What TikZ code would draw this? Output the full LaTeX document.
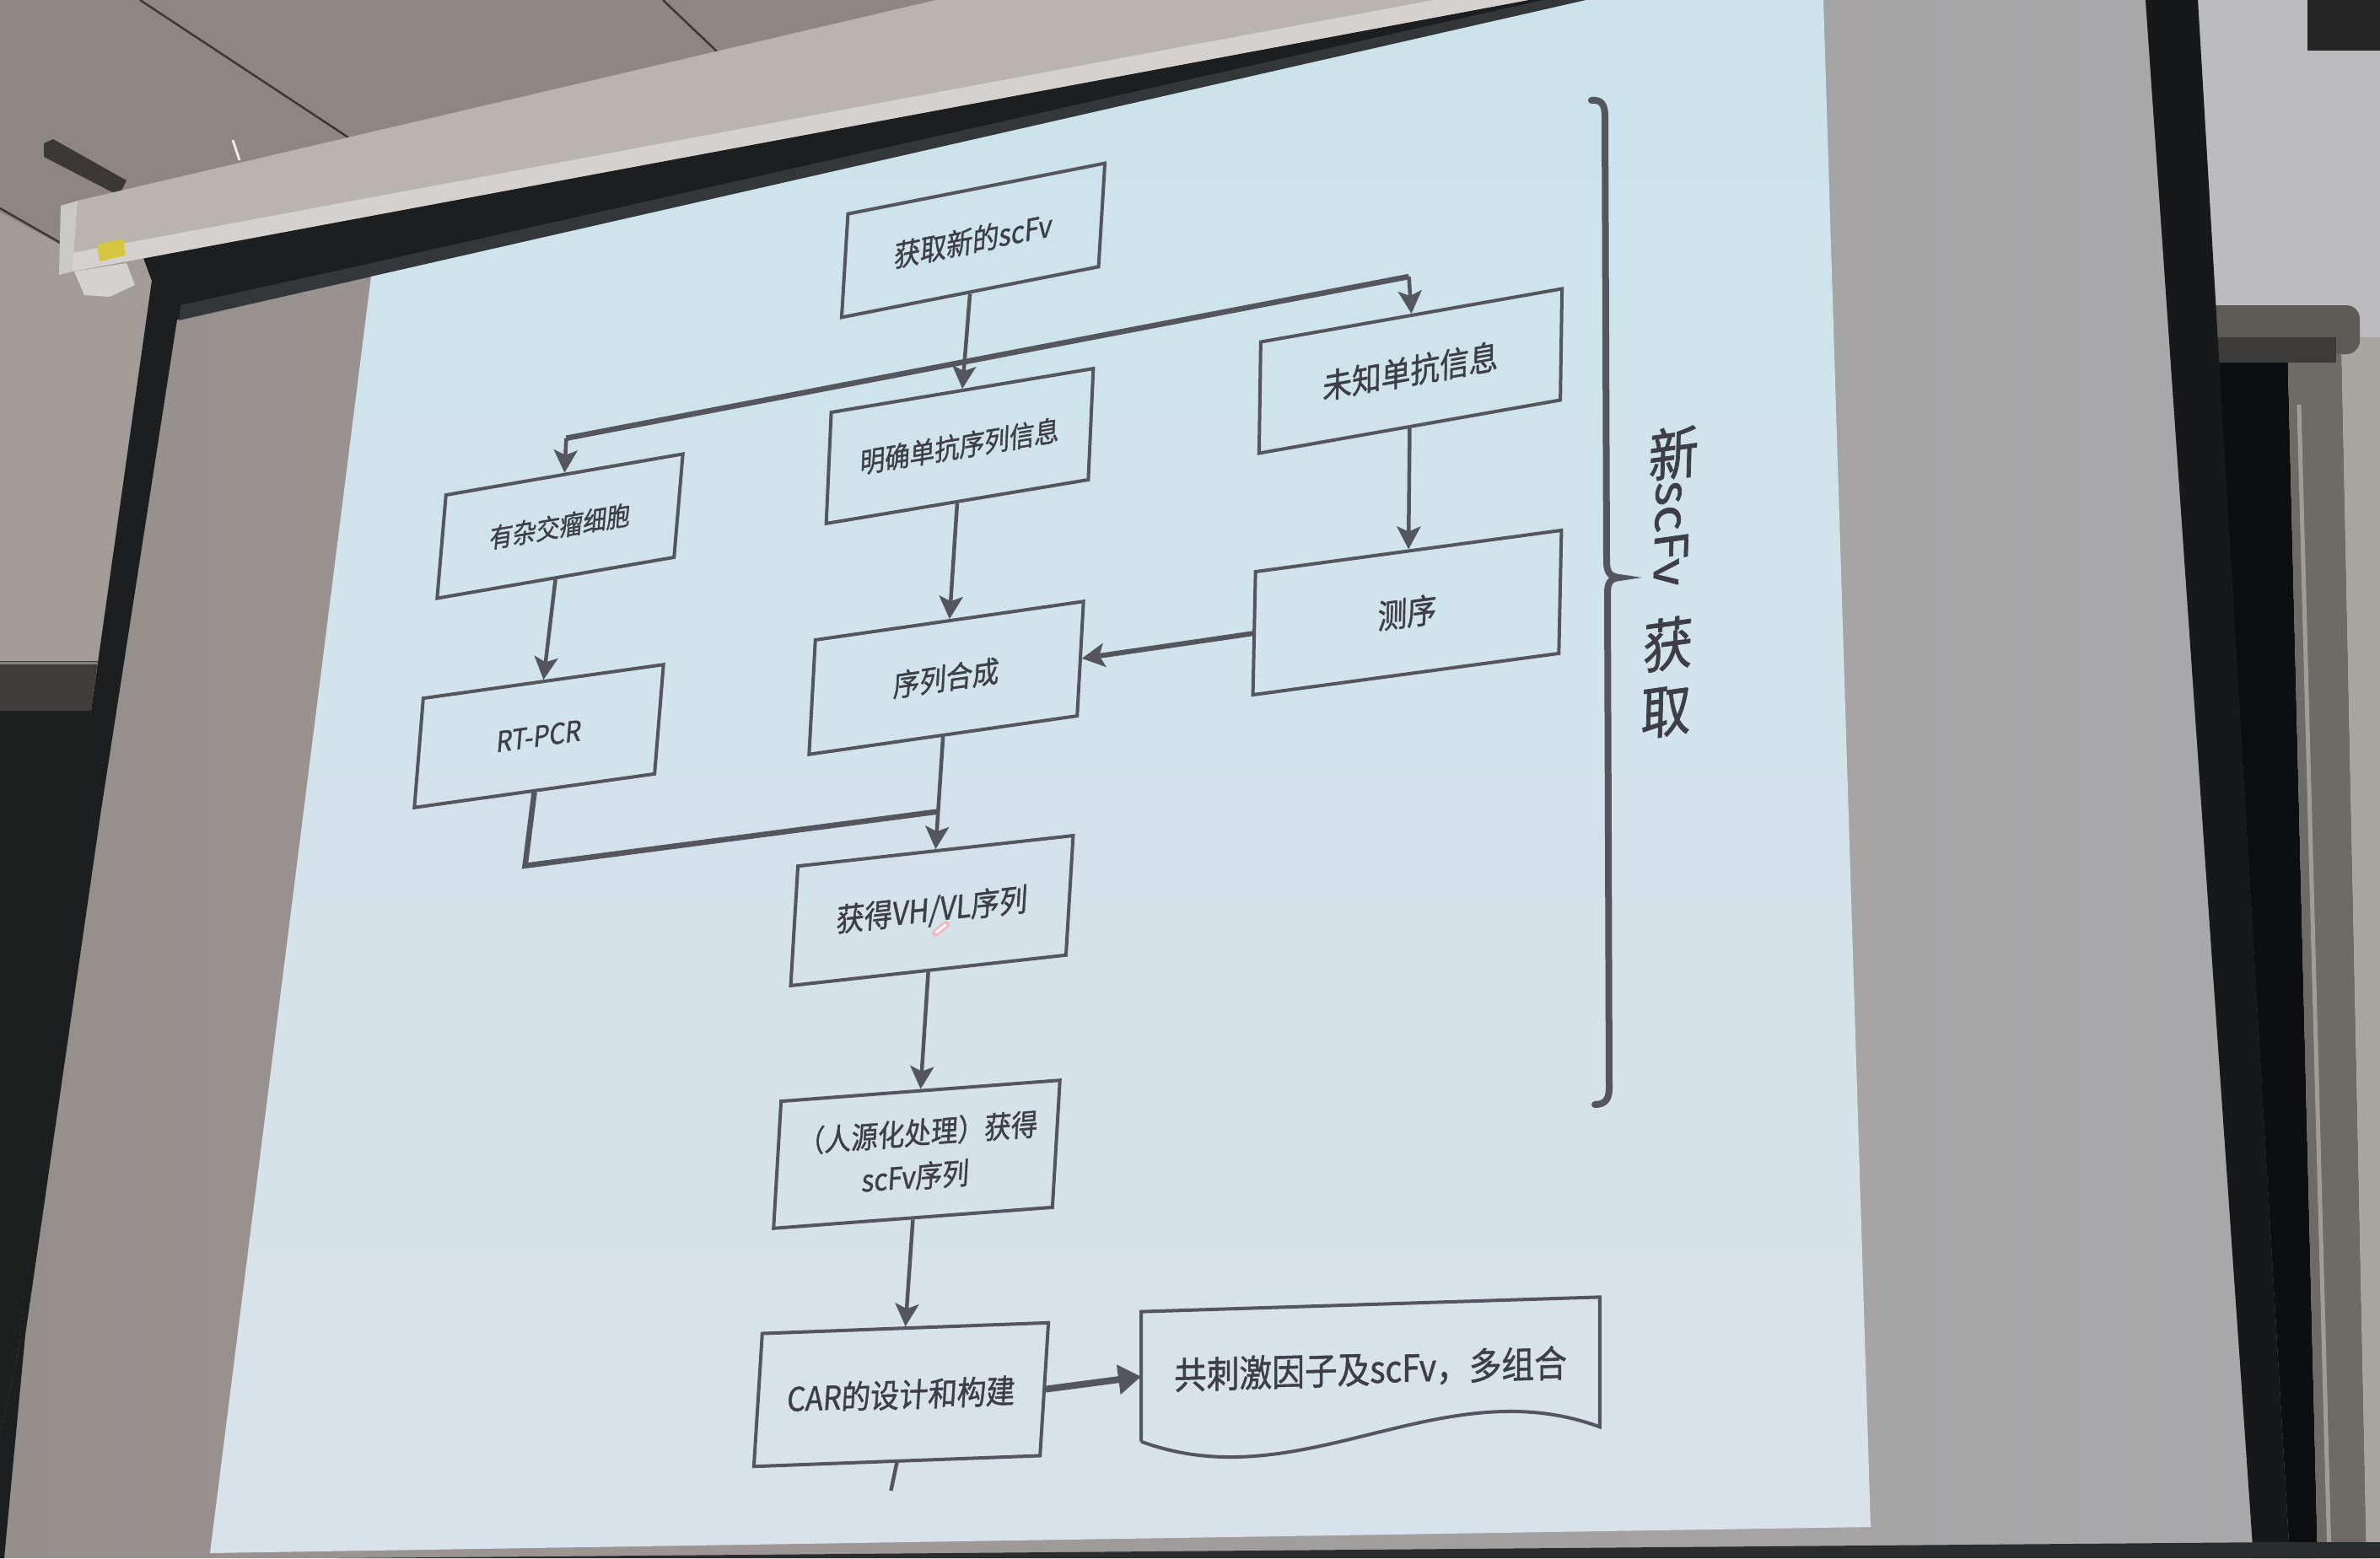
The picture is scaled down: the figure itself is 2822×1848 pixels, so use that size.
\documentclass[tikz,border=0pt]{standalone}
\usepackage{fontspec}
\usepackage{graphicx}
\usetikzlibrary{arrows.meta,calc}
\newfontfamily\cjk{Noto Sans CJK SC}[FakeBold=1.2]
\definecolor{ceil}{HTML}{8D8681}
\definecolor{ceilline}{HTML}{3C3835}
\definecolor{housing}{HTML}{BAB4AF}
\definecolor{housinglt}{HTML}{D4D1CE}
\definecolor{lblyellow}{HTML}{D6C640}
\definecolor{wallL}{HTML}{A39B97}
\definecolor{ledge}{HTML}{3F3C3A}
\definecolor{board}{HTML}{1B201F}
\definecolor{frameblk}{HTML}{1D1E20}
\definecolor{frameedge}{HTML}{34373A}
\definecolor{clothL}{HTML}{968E8B}
\definecolor{clothR}{HTML}{A9A9AB}
\definecolor{slideT}{HTML}{CCE3EB}
\definecolor{slideB}{HTML}{D9E2EA}
\definecolor{wallR}{HTML}{BCBCBE}
\definecolor{metal}{HTML}{6E6B66}
\definecolor{metallt}{HTML}{A09D98}
\definecolor{metalside}{HTML}{A8A5A0}
\definecolor{barclr}{HTML}{5E5B57}
\definecolor{bardark}{HTML}{3D3B39}
\definecolor{borderR}{HTML}{17181A}
\definecolor{topblock}{HTML}{262626}
\definecolor{bottomband}{HTML}{2B2C2E}
\definecolor{deep}{HTML}{0C0E11}
\definecolor{laser}{HTML}{F2B8BE}
\definecolor{lnclr}{HTML}{55555E}
\definecolor{txtclr}{HTML}{3E3E47}
\begin{document}
\begin{tikzpicture}[x=1pt,y=-1pt,
  box/.style={draw=lnclr, line width=4pt, text=txtclr, inner sep=0pt, align=center, transform shape},
  conn/.style={draw=lnclr, line width=4.5pt},
  arr/.style={conn, -{Stealth[length=27pt,width=28pt,inset=6pt]}},
  heavy/.style={draw=lnclr, line width=6.5pt, line join=miter},
]
\useasboundingbox (0,0) rectangle (2822,1848);

% ---- room: ceiling, wall, blackboard ----
\fill[ceil] (0,0) rectangle (2822,1848);
\draw[ceilline, line width=2.5pt] (166,0) -- (413,163);
\draw[ceilline, line width=2.5pt] (786,0) -- (850,61);
\draw[ceilline, line width=2.5pt] (0,247) -- (75,290);
\fill[ceilline] (52,170) -- (63,165) -- (150,214) -- (141,232) -- (52,186) -- cycle;
\draw[white!85!gray, line width=3pt] (276,166) -- (284,190);
\fill[wallL] (0,252) -- (75,292) -- (86,322) -- (170,306) -- (180,333) -- (116,784) -- (0,784) -- cycle;
\fill[ledge] (0,784) -- (116,784) -- (108,843) -- (0,843) -- cycle;
\draw[gray, line width=3pt] (0,786) -- (116,786);
\fill[board] (0,843) -- (108,843) -- (20,1613) -- (0,1700) -- cycle;

% ---- screen cloth and its black frame ----
\shade[left color=clothL, right color=clothR]
  (210,379) -- (1881,0) -- (2544,0) -- (2672,1848) -- (5,1848) -- (30,1583) -- (120,960) -- cycle;
\fill[frameblk] (170,306) -- (1812,0) -- (1881,0) -- (440,328) -- (210,379) -- (120,960)
  -- (30,1583) -- (5,1848) -- (0,1848) -- (0,1700) -- (20,1613) -- (100,900) -- (180,333) -- cycle;
\fill[frameedge] (212,380) -- (440,328) -- (1881,0) -- (1830,0) -- (436,313) -- (214,362) -- cycle;

% ---- screen housing ----
\fill[housing] (92,238) -- (1110,0) -- (1812,0) -- (86,322) -- cycle;
\fill[housinglt] (86,300) -- (1700,0) -- (1812,0) -- (86,322) -- cycle;
\fill[housinglt!90!gray] (72,244) -- (92,238) -- (86,322) -- (70,326) -- cycle;
\fill[lblyellow] (115,290) -- (146,283) -- (149,303) -- (118,310) -- cycle;
\fill[housinglt] (88,322) -- (150,312) -- (160,338) -- (130,352) -- (100,350) -- cycle;

% ---- projected slide ----
\shade[top color=slideT, bottom color=slideB]
  (440,328) -- (1881,0) -- (2162,0) -- (2218,1811) -- (249,1842) -- cycle;

% ---- right side: wall, frame, blackboard ----
\fill[wallR] (2606,0) -- (2822,0) -- (2822,1848) -- (2715,1848) -- cycle;
\fill[deep] (2629,400) -- (2712,400) -- (2748,1848) -- (2715,1848) -- cycle;
\fill[metal] (2712,400) -- (2776,400) -- (2806,1848) -- (2748,1848) -- cycle;
\draw[metallt, line width=5pt] (2726,480) -- (2762,1848);
\fill[metalside] (2776,400) -- (2822,400) -- (2822,1848) -- (2806,1848) -- cycle;
\fill[barclr, rounded corners=16pt] (2600,362) -- (2798,362) -- (2798,420) -- (2600,420) -- cycle;
\fill[bardark] (2630,400) -- (2770,400) -- (2770,430) -- (2630,430) -- cycle;
\fill[borderR] (2544,0) -- (2606,0) -- (2715,1848) -- (2672,1848) -- cycle;
\fill[topblock] (2736,0) rectangle (2822,60);
\fill[bottomband] (400,1848) -- (2700,1829) -- (2822,1829) -- (2822,1848) -- cycle;

% ---- flowchart boxes ----
\begin{scope}[shift={(1154,285)}, cm={0.863,0.170,0.061,0.998,(0,0)}]
  \node[box, minimum width=353pt, minimum height=123pt, font=\cjk\fontsize{36}{43}\selectfont] (A) at (0,0) {获取新的scFv};
\end{scope}
\begin{scope}[shift={(1138,529)}, cm={0.868,0.145,0.045,0.999,(0,0)}]
  \node[box, minimum width=358pt, minimum height=132pt, font=\cjk\fontsize{34}{41}\selectfont] (B) at (0,0) {明确单抗序列信息};
\end{scope}
\begin{scope}[shift={(1672.5,440)}, cm={0.867,0.153,0.015,1.0,(0,0)}]
  \node[box, minimum width=412pt, minimum height=132pt, font=\cjk\fontsize{40}{48}\selectfont] (C) at (0,0) {未知单抗信息};
\end{scope}
\begin{scope}[shift={(664,624)}, cm={0.867,0.150,0.085,0.996,(0,0)}]
  \node[box, minimum width=324pt, minimum height=123pt, font=\cjk\fontsize{32}{39}\selectfont] (F) at (0,0) {有杂交瘤细胞};
\end{scope}
\begin{scope}[shift={(639,873)}, cm={0.871,0.122,0.081,0.997,(0,0)}]
  \node[box, minimum width=327pt, minimum height=130pt, font=\cjk\fontsize{34}{41}\selectfont] (G) at (0,0) {RT-PCR};
\end{scope}
\begin{scope}[shift={(1668.5,726.5)}, cm={0.872,0.118,0.021,1.0,(0,0)}]
  \node[box, minimum width=416pt, minimum height=146pt, font=\cjk\fontsize{40}{48}\selectfont] (D) at (0,0) {测序};
\end{scope}
\begin{scope}[shift={(1122,804)}, cm={0.871,0.125,0.055,0.998,(0,0)}]
  \node[box, minimum width=365pt, minimum height=136pt, font=\cjk\fontsize{36}{43}\selectfont] (E) at (0,0) {序列合成};
\end{scope}
\begin{scope}[shift={(1105,1080)}, cm={0.875,0.097,0.060,0.998,(0,0)}]
  \node[box, minimum width=373pt, minimum height=142pt, font=\cjk\fontsize{38}{46}\selectfont] (H) at (0,0) {获得VH/VL序列};
\end{scope}
\begin{scope}[shift={(1087,1369)}, cm={0.877,0.066,0.059,0.998,(0,0)}]
  \node[box, minimum width=377pt, minimum height=151pt, font=\cjk\fontsize{36}{52}\selectfont] (I) at (0,0) {（人源化处理）获得\\scFv序列};
\end{scope}
\begin{scope}[shift={(1068.5,1654)}, cm={0.879,0.033,0.063,0.998,(0,0)}]
  \node[box, minimum width=386pt, minimum height=158pt, font=\cjk\fontsize{39}{47}\selectfont] (J) at (0,0) {CAR的设计和构建};
\end{scope}
\begin{scope}[shift={(1625,1624)}, cm={0.880,0.028,0,1,(0,0)}]
  \node[box, draw=none, minimum width=614pt, minimum height=150pt, font=\cjk\fontsize{44}{52}\selectfont] (K) at (0,0) {共刺激因子及scFv，多组合};
\end{scope}
% document outline with wavy lower edge
\draw[draw=lnclr, line width=4pt, line join=miter]
  (K.south west) -- (K.north west) -- (K.north east) -- (K.south east)
  .. controls ($(K.south east)+(-190,-70)$) and ($(K.south west)+(190,70)$) .. (K.south west);

% ---- connectors ----
\draw[arr] (A.south) -- (B.north);
\coordinate (sL) at ($(F.north)+(2,-41)$);
\coordinate (sR) at ($(C.north)+(-3,-44)$);
\draw[heavy] (sL) -- (sR);
\draw[arr] (sL) -- (F.north);
\draw[arr] (sR) -- (C.north);
\draw[arr] (F.south) -- (G.north);
\draw[arr] (B.south) -- (E.north);
\draw[arr] (C.south) -- (D.north);
\draw[arr, line width=6pt] (D.west) -- (E.east);
\draw[arr] (E.south) -- (H.north);
\coordinate (jn) at ($(E.south)!0.665!(H.north)$);
\coordinate (gc) at ($(G.south)+(-11,87)$);
\draw[heavy] (G.south) -- (gc) -- (jn);
\draw[arr] (H.south) -- (I.north);
\draw[arr] (I.south) -- (J.north);
\draw[draw=lnclr, line width=8pt, -{Triangle[length=27pt,width=34pt]}] (J.east) -- (K.west);
\coordinate (jt) at ($(J.south)+(-7,33)$);
\draw[conn] (J.south) -- (jt);

% ---- right brace and its label ----
\draw[draw=lnclr, line width=8pt, line cap=round]
  (1887,119) .. controls (1899,118) and (1903,124) .. (1903,138) -- (1905,666)
  .. controls (1905,680) and (1910,684) .. (1920,685)
  .. controls (1910,686) and (1906,690) .. (1906,704) -- (1908,1290)
  .. controls (1908,1304) and (1903,1310) .. (1891,1310);
\begin{scope}[shift={(1980,690)}, cm={0.871,0.123,0.03,1.0,(0,0)}]
  \node[transform shape, text=txtclr, inner sep=0pt, align=center, font=\cjk\fontsize{68}{79}\selectfont] (ttl) at (0,0)
    {新\\\rotatebox[origin=c]{-90}{\fontsize{62}{70}\selectfont scFv}\\[36pt]获\\取};
\end{scope}

% laser pointer spot
\draw[laser, line width=8pt, line cap=round] (1109,1107) -- (1122,1096);
\draw[white, line width=3pt, line cap=round] (1110,1106) -- (1121,1097);
\end{tikzpicture}
\end{document}
